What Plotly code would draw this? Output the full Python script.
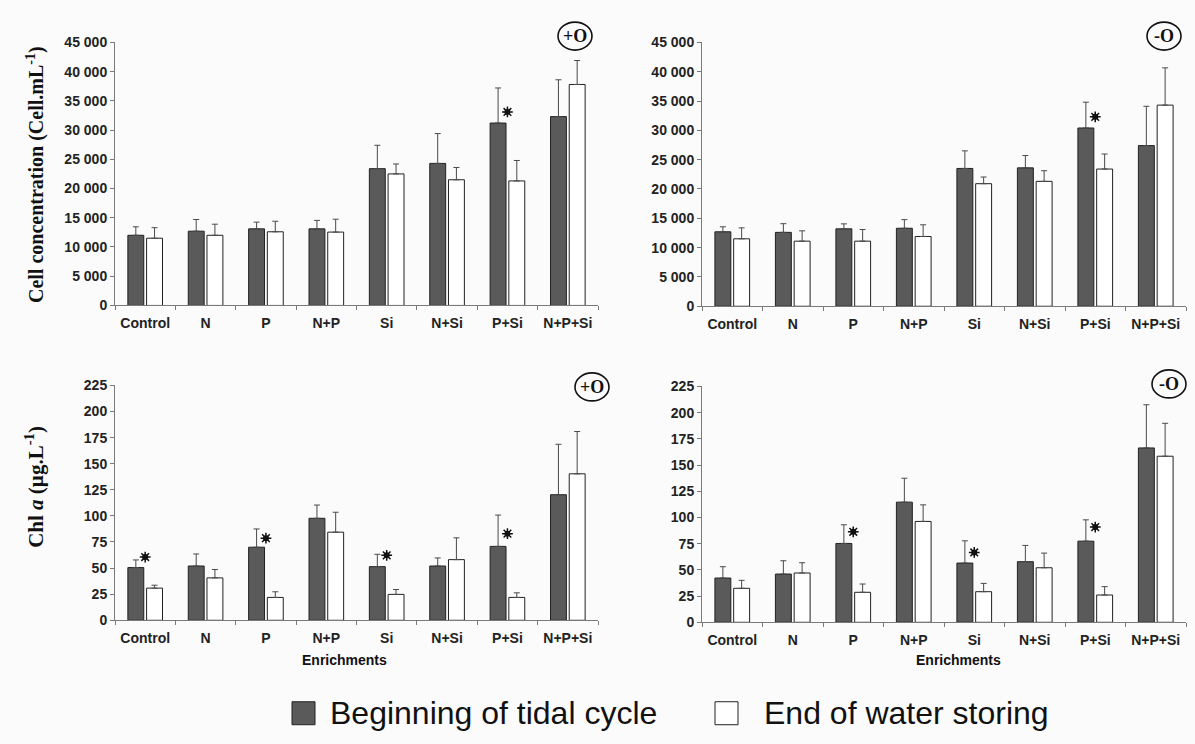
import plotly.graph_objects as go

W, H = 1195, 744

categories = ["Control", "N", "P", "N+P", "Si", "N+Si", "P+Si", "N+P+Si"]

# Cell concentration, oxygenated (+O)
cell_plus_begin = [12000, 12700, 13100, 13100, 23400, 24300, 31200, 32300]
cell_plus_begin_err = [1450, 2000, 1150, 1450, 4000, 5100, 6000, 6300]
cell_plus_end = [11500, 12000, 12600, 12550, 22500, 21500, 21300, 37800]
cell_plus_end_err = [1800, 1900, 1800, 2200, 1700, 2100, 3500, 4100]
cell_plus_star = [None, None, None, None, None, None, 33100, None]

# Cell concentration, non-oxygenated (-O)
cell_minus_begin = [12700, 12600, 13200, 13300, 23500, 23600, 30400, 27400]
cell_minus_begin_err = [850, 1480, 850, 1470, 3000, 2100, 4400, 6700]
cell_minus_end = [11500, 11100, 11100, 11900, 20900, 21300, 23400, 34300]
cell_minus_end_err = [1870, 1760, 1990, 1990, 1140, 1810, 2560, 6360]
cell_minus_star = [None, None, None, None, None, None, 32300, None]

# Chl a, oxygenated (+O)
chl_plus_begin = [50.5, 52.0, 70.0, 97.7, 51.4, 52.0, 70.8, 120.3]
chl_plus_begin_err = [7.3, 11.5, 17.5, 12.7, 11.8, 7.7, 30.0, 48.3]
chl_plus_end = [30.8, 40.6, 21.9, 84.4, 24.8, 58.1, 21.9, 140.3]
chl_plus_end_err = [2.8, 8.0, 5.4, 19.1, 4.7, 20.9, 4.4, 40.5]
chl_plus_star = [60.6, None, 78.7, None, 62.2, None, 83.0, None]

# Chl a, non-oxygenated (-O)
chl_minus_begin = [42.2, 46.0, 75.2, 114.6, 56.5, 57.8, 77.4, 166.3]
chl_minus_begin_err = [10.8, 12.7, 17.8, 22.8, 21.2, 15.5, 20.3, 41.2]
chl_minus_end = [32.4, 47.0, 28.6, 96.2, 29.2, 52.0, 26.0, 158.4]
chl_minus_end_err = [7.6, 9.8, 7.9, 15.8, 7.9, 14.0, 8.0, 31.4]
chl_minus_star = [None, None, 86.3, None, 66.6, None, 90.8, None]

series_names = ["Beginning of tidal cycle", "End of water storing"]
cell_ticks = [0, 5000, 10000, 15000, 20000, 25000, 30000, 35000, 40000, 45000]
chl_ticks = [0, 25, 50, 75, 100, 125, 150, 175, 200, 225]

DARK = "#5a5a5a"
EDGE = "#222222"
AXC = "#7a7a7a"
BG = "#fbfbfb"
TICKFONT = dict(family="Liberation Sans", size=14, color="#222", weight="bold")

# vertical placement helper (target pixel row -> paper fraction), tuned to the capture
VS, VO = 0.979, 6.9


def fy(t):
    return 1 - ((t - VO) / VS) / H


def fx(t):
    return t / W


fig = go.Figure()

panels = [
    ("x", "y", cell_plus_begin, cell_plus_begin_err, cell_plus_end, cell_plus_end_err, cell_plus_star,
     (115, 598, 41.3, 304.5), 45000, cell_ticks, "+O", (575, 35)),
    ("x2", "y2", cell_minus_begin, cell_minus_begin_err, cell_minus_end, cell_minus_end_err, cell_minus_star,
     (702, 1186, 41.3, 305.3), 45000, cell_ticks, "-O", (1164, 35)),
    ("x3", "y3", chl_plus_begin, chl_plus_begin_err, chl_plus_end, chl_plus_end_err, chl_plus_star,
     (115, 598, 384.5, 619.5), 225, chl_ticks, "+O", (592, 386)),
    ("x4", "y4", chl_minus_begin, chl_minus_begin_err, chl_minus_end, chl_minus_end_err, chl_minus_star,
     (702, 1186, 385.5, 621.5), 225, chl_ticks, "-O", (1169, 383)),
]

layout_axes = {}
shapes = []
annotations = []

for i, (xa, ya, b, be, e, ee, st, box, ymax, ticks, lab, lpos) in enumerate(panels):
    fig.add_trace(go.Bar(
        x=categories, y=b, name=series_names[0], xaxis=xa, yaxis=ya,
        marker=dict(color=DARK, line=dict(color=EDGE, width=1)),
        error_y=dict(type="data", symmetric=False, array=be, arrayminus=[0] * len(be),
                     color="#4a4a4a", thickness=1, width=3),
        showlegend=False,
    ))
    fig.add_trace(go.Bar(
        x=categories, y=e, name=series_names[1], xaxis=xa, yaxis=ya,
        marker=dict(color="white", line=dict(color=EDGE, width=1)),
        error_y=dict(type="data", symmetric=False, array=ee, arrayminus=[0] * len(ee),
                     color="#4a4a4a", thickness=1, width=3),
        showlegend=False,
    ))
    sx = [c for c, s in zip(categories, st) if s is not None]
    sy = [s for s in st if s is not None]
    fig.add_trace(go.Scatter(
        x=sx, y=sy, mode="markers", xaxis=xa, yaxis=ya, showlegend=False,
        marker=dict(symbol="circle", size=6, color="#111111", line=dict(width=0)),
    ))
    fig.add_trace(go.Scatter(
        x=sx, y=sy, mode="markers", xaxis=xa, yaxis=ya, showlegend=False,
        marker=dict(symbol="asterisk-open", size=9, color="#111111",
                    line=dict(color="#111111", width=1.5)),
    ))

    x0, x1, ytop, ybot = box
    suffix = "" if i == 0 else str(i + 1)
    layout_axes["xaxis" + suffix] = dict(
        domain=[fx(x0), fx(x1)], anchor=ya, type="category",
        showline=True, linecolor=AXC, linewidth=1,
        ticks="outside", tickson="boundaries", ticklen=4, tickcolor=AXC,
        tickfont=TICKFONT, ticklabelstandoff=5,
        showgrid=False, zeroline=False, fixedrange=True,
    )
    layout_axes["yaxis" + suffix] = dict(
        domain=[fy(ybot), fy(ytop)], anchor=xa, range=[0, ymax],
        tickvals=ticks, tickformat=",d",
        showline=True, linecolor=AXC, linewidth=1,
        ticks="outside", ticklen=4, tickcolor=AXC,
        tickfont=TICKFONT,
        showgrid=False, zeroline=False, fixedrange=True,
    )

    cx, cy = lpos
    shapes.append(dict(type="circle", xref="paper", yref="paper",
                       x0=fx(cx - 17), x1=fx(cx + 17),
                       y0=fy(cy + 14), y1=fy(cy - 14),
                       line=dict(color="#111", width=1.6)))
    annotations.append(dict(text=lab, xref="paper", yref="paper", x=fx(cx), y=fy(cy),
                            xanchor="center", yanchor="middle", showarrow=False,
                            font=dict(family="Liberation Serif", size=18, color="#111", weight="bold")))

# y-axis titles
annotations.append(dict(text="Cell concentration (Cell.mL<sup>-1</sup>)", xref="paper", yref="paper",
                        x=fx(35), y=fy(174), textangle=-90, showarrow=False,
                        xanchor="center", yanchor="middle",
                        font=dict(family="Liberation Serif", size=20, color="#111", weight="bold")))
annotations.append(dict(text="Chl <i>a</i> (µg.L<sup>-1</sup>)", xref="paper", yref="paper",
                        x=fx(35), y=fy(486), textangle=-90, showarrow=False,
                        xanchor="center", yanchor="middle",
                        font=dict(family="Liberation Serif", size=21, color="#111", weight="bold")))

# x-axis titles
for xc in (345, 958):
    annotations.append(dict(text="Enrichments", xref="paper", yref="paper",
                            x=fx(xc), y=fy(659), showarrow=False,
                            xanchor="center", yanchor="middle",
                            font=dict(family="Liberation Sans", size=14, color="#111", weight="bold")))

# Legend (key boxes + text)
legend_items = [(292, 328, DARK, series_names[0]), (715, 762, "white", series_names[1])]
for bx, tx, col, txt in legend_items:
    shapes.append(dict(type="rect", xref="paper", yref="paper",
                       x0=fx(bx), x1=fx(bx + 23), y0=fy(724), y1=fy(701),
                       fillcolor=col, line=dict(color=EDGE, width=1)))
    annotations.append(dict(text=txt, xref="paper", yref="paper", x=fx(tx), y=fy(712),
                            showarrow=False, xanchor="left", yanchor="middle",
                            font=dict(family="Liberation Sans", size=32, color="#111")))

fig.update_layout(
    width=W, height=H,
    margin=dict(l=0, r=0, t=0, b=0),
    paper_bgcolor=BG, plot_bgcolor=BG,
    barmode="group", bargap=0.38, bargroupgap=0.15,
    separators=". ",
    shapes=shapes, annotations=annotations,
    showlegend=False,
    **layout_axes,
)

fig.write_html("out.html", config={"displayModeBar": False},
               post_script="document.body.style.margin='0px';document.body.style.overflow='hidden';")
